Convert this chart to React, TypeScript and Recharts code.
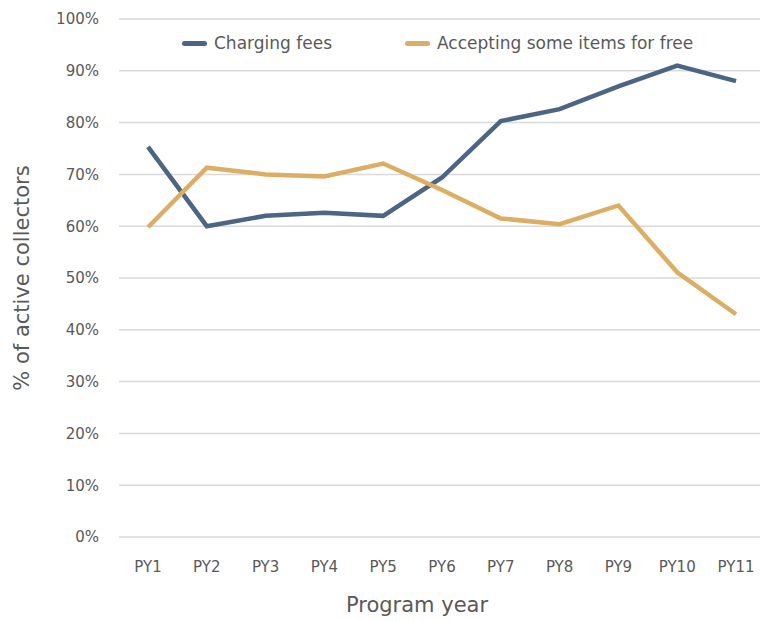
import React from "react";
import { LineChart, Line, XAxis, YAxis, CartesianGrid, Legend } from "recharts";

const years = ["PY1", "PY2", "PY3", "PY4", "PY5", "PY6", "PY7", "PY8", "PY9", "PY10", "PY11"];
const chargingFees = [75.3, 60, 62, 62.6, 62, 69.4, 80.3, 82.6, 87, 91, 88];
const acceptingFree = [59.8, 71.3, 70, 69.6, 72.1, 67, 61.5, 60.4, 64, 51.1, 43];
const yTicks = [0, 10, 20, 30, 40, 50, 60, 70, 80, 90, 100];

const BLUE = "#4d6584";
const GOLD = "#dcae64";
const TEXT = "#595959";
const FONT = "'DejaVu Sans', sans-serif";

const data = years.map((y, i) => ({ year: y, fees: chargingFees[i], free: acceptingFree[i] }));

const legendItems = [
    { label: "Charging fees", color: BLUE, left: 182 },
    { label: "Accepting some items for free", color: GOLD, left: 405 },
];

const ChartLegend = () => (
    <div style={{ position: "relative", height: 22 }}>
        {legendItems.map((it) => (
            <div key={it.label} style={{ position: "absolute", left: it.left, top: 0, display: "flex", alignItems: "center", gap: 7 }}>
                <div style={{ width: 25, height: 5, borderRadius: 3, background: it.color }} />
                <span style={{ fontSize: 17, color: TEXT, fontFamily: FONT }}>{it.label}</span>
            </div>
        ))}
    </div>
);

const YTitle = ({ viewBox }: any) => {
    const cy = viewBox.y + viewBox.height / 2;
    return (
        <text x={29} y={cy} transform={`rotate(-90 29 ${cy})`} textAnchor="middle" fill={TEXT}
            style={{ fontSize: 21, fontFamily: FONT }}>
            % of active collectors
        </text>
    );
};

const XTitle = () => (
    <text x={417} y={612} textAnchor="middle" fill={TEXT} style={{ fontSize: 21, fontFamily: FONT }}>
        Program year
    </text>
);

export default function App() {
    return (
        <div style={{ position: "fixed", left: 0, top: 0, width: 780, height: 621, background: "#fff" }}>
            <style>{"html,body{margin:0;overflow:hidden}"}</style>
            <LineChart width={780} height={621} data={data} margin={{ top: 19, right: 15, bottom: 0, left: 0 }}>
                <CartesianGrid vertical={false} stroke="#d9d9d9" strokeWidth={1.5} />
                <XAxis
                    dataKey="year"
                    height={84}
                    padding={{ left: 29, right: 29 }}
                    axisLine={false}
                    tickLine={false}
                    tickSize={0}
                    tickMargin={24}
                    tick={{ fill: TEXT, fontSize: 15, fontFamily: FONT }}
                    label={{ content: XTitle }}
                />
                <YAxis
                    width={119}
                    domain={[0, 100]}
                    ticks={yTicks}
                    interval={0}
                    axisLine={false}
                    tickLine={false}
                    tickSize={0}
                    tickMargin={20}
                    tickFormatter={(v) => `${v}%`}
                    tick={{ fill: TEXT, fontSize: 15, fontFamily: FONT }}
                    label={{ content: YTitle }}
                />
                <Legend verticalAlign="middle" wrapperStyle={{ top: 33, left: 0, width: 780 }} content={<ChartLegend />} />
                <Line dataKey="fees" name="Charging fees" stroke={BLUE} strokeWidth={4.5} dot={false} isAnimationActive={false} />
                <Line dataKey="free" name="Accepting some items for free" stroke={GOLD} strokeWidth={4.5} dot={false} isAnimationActive={false} />
            </LineChart>
        </div>
    );
}
